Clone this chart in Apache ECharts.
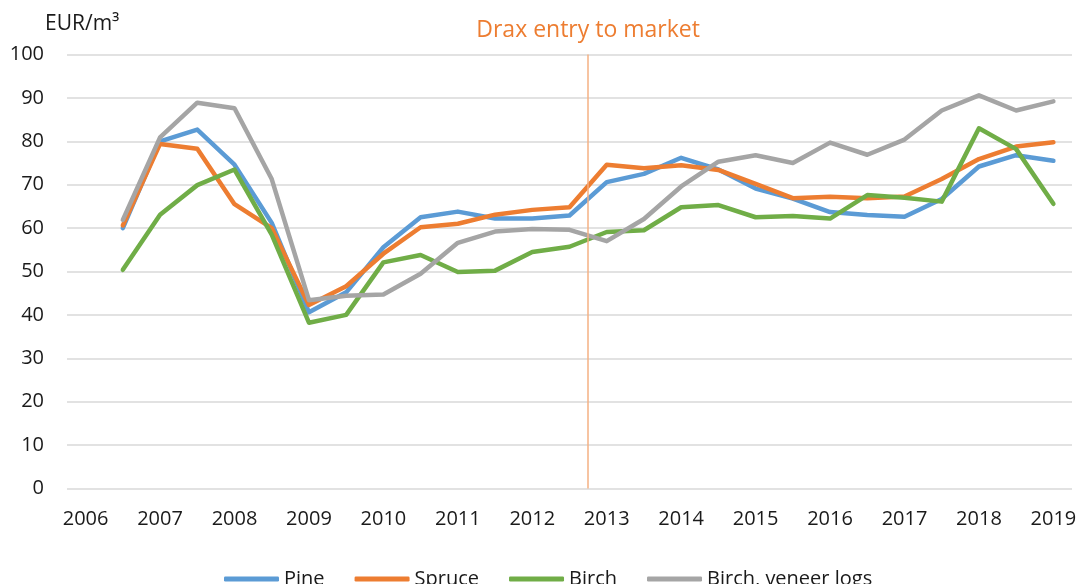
<!DOCTYPE html>
<html>
<head>
<meta charset="utf-8">
<title>Roundwood prices</title>
<script src="https://cdn.jsdelivr.net/npm/echarts@6/dist/echarts.min.js"></script>
<style>
  html, body { margin: 0; padding: 0; background: #fff; }
  #chart { width: 1082px; height: 584px; }
</style>
</head>
<body>
<div id="chart"></div>
<script>
// half-year periods, labels shown for whole years only
const periods = [
  "2006", "2006 H2", "2007", "2007 H2", "2008", "2008 H2", "2009", "2009 H2",
  "2010", "2010 H2", "2011", "2011 H2", "2012", "2012 H2", "2013", "2013 H2",
  "2014", "2014 H2", "2015", "2015 H2", "2016", "2016 H2", "2017", "2017 H2",
  "2018", "2018 H2", "2019",
];

// EUR/m3
const pine = [null, 60.0, 80.0, 82.7, 74.6, 61.2, 40.6, 45.2, 55.6, 62.5, 63.8, 62.2, 62.2, 62.9,
  70.6, 72.5, 76.2, 73.5, 69.1, 66.8, 63.7, 63.0, 62.6, 66.7, 74.2, 76.8, 75.5];
const spruce = [null, 60.6, 79.4, 78.3, 65.5, 60.0, 42.3, 46.6, 54.1, 60.2, 61.0, 63.1, 64.2, 64.8,
  74.6, 73.8, 74.5, 73.4, 70.2, 66.9, 67.2, 66.9, 67.3, 71.3, 75.9, 78.8, 79.8];
const birch = [null, 50.4, 63.1, 69.9, 73.5, 58.5, 38.2, 40.0, 52.1, 53.8, 49.9, 50.2, 54.5, 55.7,
  59.1, 59.5, 64.8, 65.3, 62.5, 62.8, 62.2, 67.6, 67.0, 66.1, 83.0, 78.2, 65.6];
const birchVeneer = [null, 61.9, 80.9, 88.9, 87.6, 71.3, 43.4, 44.4, 44.7, 49.5, 56.6, 59.2, 59.8, 59.6,
  57.0, 62.1, 69.6, 75.3, 76.8, 75.0, 79.7, 76.9, 80.4, 87.1, 90.6, 87.1, 89.2];

const draxYear = 2012.75;
const draxLabel = "Drax entry to market";

const FONT = "Open Sans";
const chart = echarts.init(document.getElementById("chart"));

function lineSeries(name, data, color) {
  return {
    name,
    type: "line",
    data,
    symbol: "none",
    connectNulls: false,
    lineStyle: { color, width: 4.5, cap: "round", join: "round" },
    itemStyle: { color },
  };
}

chart.setOption({
  animation: false,
  textStyle: { fontFamily: FONT },
  title: {
    text: "EUR/m³",
    left: 40,
    top: 9,
    textStyle: { fontFamily: FONT, fontSize: 21, fontWeight: "normal", color: "#1a1a1a" },
  },
  legend: {
    data: ["Pine", "Spruce", "Birch", "Birch, veneer logs"],
    left: 219,
    top: 564,
    icon: "roundRect",
    itemWidth: 55,
    itemHeight: 5,
    itemGap: 30,
    textStyle: { fontFamily: FONT, fontSize: 20, color: "#1a1a1a" },
  },
  grid: { left: 67, right: 10, top: 54.5, bottom: 95.5, containLabel: false },
  xAxis: [
    {
      type: "category",
      data: periods,
      boundaryGap: true,
      axisLine: { show: false },
      axisTick: { show: false },
      axisLabel: {
        interval: 1,
        margin: 21,
        fontFamily: FONT,
        fontSize: 20,
        color: "#1a1a1a",
        formatter: (v) => v.slice(0, 4),
      },
      splitLine: { show: false },
    },
    // hidden year scale, only used to place the Drax marker between periods
    { type: "value", min: 2005.75, max: 2019.25, show: false },
  ],
  yAxis: {
    type: "value",
    min: 0,
    max: 100,
    interval: 10,
    axisLine: { show: false },
    axisTick: { show: false },
    axisLabel: { margin: 23, fontFamily: FONT, fontSize: 20, color: "#1a1a1a" },
    splitLine: { lineStyle: { color: "#d9d9d9", width: 1.5 } },
  },
  series: [
    lineSeries("Pine", pine, "#5b9bd5"),
    lineSeries("Spruce", spruce, "#ed7d31"),
    lineSeries("Birch", birch, "#70ad47"),
    lineSeries("Birch, veneer logs", birchVeneer, "#a5a5a5"),
    {
      name: "drax",
      type: "line",
      xAxisIndex: 1,
      data: [],
      silent: true,
      markLine: {
        silent: true,
        symbol: ["none", "none"],
        lineStyle: { color: "#f4b183", width: 1.5, type: "solid" },
        label: {
          show: true,
          position: "end",
          distance: 13,
          formatter: draxLabel,
          fontFamily: FONT,
          fontSize: 23,
          color: "#ed7d31",
        },
        data: [{ xAxis: draxYear }],
      },
    },
  ],
});
</script>
</body>
</html>
